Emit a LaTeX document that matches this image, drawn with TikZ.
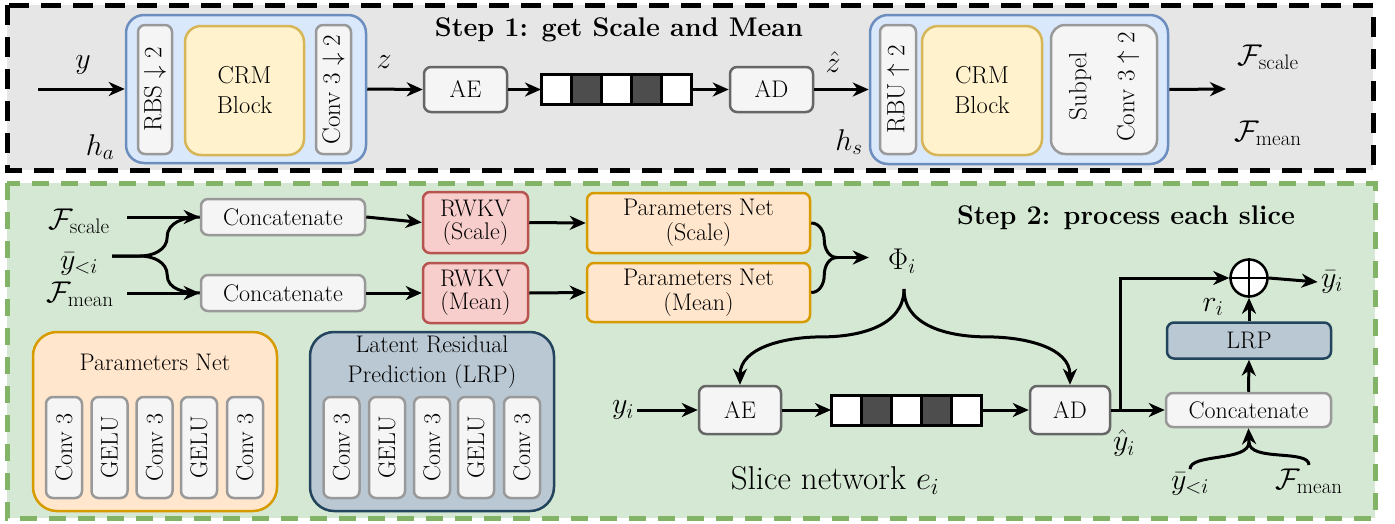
\RequirePackage{fix-cm}
\documentclass[tikz,border=0pt]{standalone}
\usetikzlibrary{arrows.meta,calc}
\definecolor{topbg}{HTML}{E6E6E6}
\definecolor{greenbg}{HTML}{D5E8D4}
\definecolor{greenln}{HTML}{82B366}
\definecolor{bluebg}{HTML}{DAE8FC}
\definecolor{blueln}{HTML}{6C8EBF}
\definecolor{yelbg}{HTML}{FFF2CC}
\definecolor{yelln}{HTML}{D6B656}
\definecolor{graybg}{HTML}{F5F5F5}
\definecolor{grayln}{HTML}{999999}
\definecolor{dgrayln}{HTML}{666666}
\definecolor{orbg}{HTML}{FFE6CC}
\definecolor{orln}{HTML}{D79B00}
\definecolor{redbg}{HTML}{F8CECC}
\definecolor{redln}{HTML}{B85450}
\definecolor{lrpbg}{HTML}{BAC8D3}
\definecolor{lrpln}{HTML}{23445D}
\definecolor{darkcell}{HTML}{4D4D4D}
\begin{document}
\begin{tikzpicture}[x=1pt,y=-1pt,
  font=\fontsize{24}{27}\selectfont,
  box/.style={draw, rounded corners=7pt, line width=2.5pt, align=center, inner sep=0pt},
  lgray/.style={box, fill=graybg, draw=grayln},
  dgray/.style={box, fill=graybg, draw=dgrayln},
  blueb/.style={box, fill=bluebg, draw=blueln, rounded corners=18pt},
  yelb/.style={box, fill=yelbg, draw=yelln, rounded corners=16pt, font=\fontsize{24.5}{30}\selectfont},
  redb/.style={box, fill=redbg, draw=redln, font=\fontsize{24}{23}\selectfont},
  orb/.style={box, fill=orbg, draw=orln, font=\fontsize{24}{25}\selectfont},
  lrpb/.style={box, fill=lrpbg, draw=lrpln},
  cell/.style={draw, line width=3pt, minimum width=30pt, minimum height=30pt, inner sep=0pt, outer sep=0pt},
  mlab/.style={font=\fontsize{30}{34}\selectfont},
  rlab/.style={font=\fontsize{25}{28}\selectfont},
  line/.style={line width=3pt},
  arr/.style={line width=3pt, -{Stealth[length=16pt,width=14pt,inset=5pt]}},
  title/.style={font=\fontsize{27}{32}\selectfont\bfseries}
]
\useasboundingbox (0,0) rectangle (1395,523);

% ---------- backgrounds ----------
\draw[fill=topbg, line width=5pt, dash pattern=on 20pt off 12pt] (7,5) rectangle (1373,170);
\draw[fill=greenbg, draw=greenln, line width=5pt, dash pattern=on 17pt off 12pt] (7,183) rectangle (1375,518);

% ---------- Step 1 ----------
\node[title] (s1) at (619,30) {Step 1: get Scale and Mean};

\node[blueb, minimum width=240pt, minimum height=148pt] (ha) at (246,89) {};
\node[lgray, rlab, rotate=90, minimum width=129pt, minimum height=34pt] (rbs) at (155,89.5) {$\mathrm{RBS}\downarrow 2$};
\node[yelb, minimum width=119pt, minimum height=129pt] (crm1) at (244.5,90.5) {CRM\\Block};
\node[lgray, rlab, rotate=90, minimum width=129pt, minimum height=35pt] (cv1) at (333.5,89.5) {$\mathrm{Conv}\ 3\downarrow 2$};

\coordinate (yin) at (38,89);
\node[mlab] (ylab) at (83,65) {$y$};
\node[mlab] (halab) at (100,147) {$h_a$};
\node[mlab] (zlab) at (384,62) {$z$};
\node[mlab] (zhlab) at (833,62) {$\hat z$};
\node[mlab] (hslab) at (849,142) {$h_s$};

\node[dgray, minimum width=83pt, minimum height=45pt] (ae1) at (465.5,89.5) {AE};
\foreach \i/\c in {1/white,2/darkcell,3/white,4/darkcell,5/white}{
  \node[cell, fill=\c] (ta\i) at (556+30*\i-30,89.5) {};
}
\node[dgray, minimum width=83pt, minimum height=45pt] (ad1) at (771.5,89.5) {AD};

\node[blueb, minimum width=298pt, minimum height=149pt] (hs) at (1019,89.5) {};
\node[lgray, rlab, rotate=90, minimum width=129pt, minimum height=36pt] (rbu) at (898,89.5) {$\mathrm{RBU}\uparrow 2$};
\node[yelb, minimum width=120pt, minimum height=129pt] (crm2) at (982,90.5) {CRM\\Block};
\node[lgray, minimum width=106pt, minimum height=129pt, rounded corners=14pt] (sub) at (1104,89.5) {};
\node[rlab, rotate=90] (subt1) at (1080,86) {$\mathrm{Subpel}$};
\node[rlab, rotate=90] (subt2) at (1128,87) {$\mathrm{Conv}\ 3\uparrow 2$};

\coordinate (hsout) at (1226,89);
\node[mlab] (fsc1) at (1268,57) {$\mathcal{F}_{\mathrm{scale}}$};
\node[mlab] (fme1) at (1268,133) {$\mathcal{F}_{\mathrm{mean}}$};

\draw[arr] (yin) -- (ha.west);
\draw[arr] (ha.east) -- (ae1.west);
\draw[arr] (ae1.east) -- (ta1.west);
\draw[arr] (ta5.east) -- (ad1.west);
\draw[arr] (ad1.east) -- (hs.west);
\draw[arr] (hs.east) -- (hsout);

% ---------- Step 2 ----------
\node[title] (s2) at (1126,218) {Step 2: process each slice};

\node[mlab, minimum width=96pt] (fs) at (79,221) {$\mathcal{F}_{\mathrm{scale}}$};
\node[mlab, minimum width=66pt] (yb) at (79,264) {$\bar y_{<i}$};
\node[mlab, minimum width=94pt] (fm) at (80,294) {$\mathcal{F}_{\mathrm{mean}}$};

\node[lgray, minimum width=164pt, minimum height=36pt] (cat1) at (283,217) {Concatenate};
\node[lgray, minimum width=164pt, minimum height=36pt] (cat2) at (283,293) {Concatenate};
\node[redb, minimum width=105pt, minimum height=61pt] (rw1) at (475.5,222.5) {RWKV\\(Scale)};
\node[redb, minimum width=105pt, minimum height=60pt] (rw2) at (475.5,293) {RWKV\\(Mean)};
\node[orb, minimum width=223pt, minimum height=60pt] (pn1) at (698.5,223) {Parameters Net\\(Scale)};
\node[orb, minimum width=223pt, minimum height=59pt] (pn2) at (698.5,292.5) {Parameters Net\\(Mean)};
\node[mlab, minimum width=66pt] (phi) at (902,261) {$\Phi_i$};

\draw[arr] ($(fs.east)+(0,-4)$) -- (cat1.west);
\draw[arr] ($(fm.east)+(0,-1)$) -- (cat2.west);
\draw[line] ($(yb.east)+(0,-8)$) -- ++(28,0) to[out=0,in=-90] ++(27,-19) to[out=90,in=180] (cat1.west);
\draw[line] ($(yb.east)+(0,-8)$) -- ++(28,0) to[out=0,in=90] ++(27,19) to[out=-90,in=180] (cat2.west);
\draw[arr] (cat1.east) -- (rw1.west);
\draw[arr] (cat2.east) -- (rw2.west);
\draw[arr] (rw1.east) -- (pn1.west);
\draw[arr] (rw2.east) -- (pn2.west);
\draw[line] (pn1.east) to[out=0,in=90] ++(13,17) to[out=-90,in=180] ++(13,17.5) coordinate (pj);
\draw[line] (pn2.east) to[out=0,in=-90] ++(13,-17.5) to[out=90,in=180] ++(13,-17.5);
\draw[arr] (pj) -- (pj -| phi.west);

% slice network
\node[mlab] (yi) at (623,410) {$y_i$};
\node[dgray, minimum width=82pt, minimum height=48pt] (ae2) at (740,410) {AE};
\foreach \i/\c in {1/white,2/darkcell,3/white,4/darkcell,5/white}{
  \node[cell, fill=\c] (tb\i) at (846+30*\i-30,410) {};
}
\node[dgray, minimum width=80pt, minimum height=48pt] (ad2) at (1070,410) {AD};
\node[lgray, minimum width=165pt, minimum height=34pt] (cat3) at (1248.5,410) {Concatenate};
\node[lrpb, minimum width=164pt, minimum height=36pt] (lrp) at (1249,340.5) {LRP};
\node[circle, draw, fill=white, line width=2.5pt, minimum size=37pt, inner sep=0pt] (op) at (1249,278) {};
\draw[line width=2.5pt] (op.north) -- (op.south) (op.west) -- (op.east);
\node[mlab] (ybi) at (1332,282) {$\bar y_i$};
\node[mlab] (ri) at (1213,307) {$r_i$};
\node[mlab] (yh) at (1124,443) {$\hat y_i$};
\node[mlab] (yb2) at (1190,484) {$\bar y_{<i}$};
\node[mlab] (fm2) at (1309,481) {$\mathcal{F}_{\mathrm{mean}}$};
\node (sn) at (835,480) {\fontsize{33}{36}\selectfont Slice network $e_i$};

\coordinate (sp) at (904,289);
\coordinate (bj) at (1249,442);

\draw[arr] (sp) to[out=-90,in=0] ($(sp)!0.5!(ae2.north)$) to[out=180,in=90] (ae2.north);
\draw[arr] (sp) to[out=-90,in=180] ($(sp)!0.5!(ad2.north)$) to[out=0,in=90] (ad2.north);
\draw[arr] (yi) -- (ae2.west);
\draw[arr] (ae2.east) -- (tb1.west);
\draw[arr] (tb5.east) -- (ad2.west);
\draw[arr] (ad2.east) -- (cat3.west);
\draw[arr] ($(ad2.east)+(9,0)$) |- (op.west);
\draw[arr] (cat3.north) -- (lrp.south);
\draw[arr] (lrp.north) -- (op.south);
\draw[arr] (op.east) -- (ybi.west);
\draw[line] (yb2.north) .. controls +(0,-16) and +(0,20) .. (bj);
\draw[line] (fm2.north) .. controls +(0,-16) and +(0,20) .. (bj);
\draw[arr] (bj) -- (cat3.south);

% legends
\node[orb, rounded corners=24pt, minimum width=244pt, minimum height=179pt] (pnl) at (155,421.5) {};
\node (pnlt) at (155,362) {Parameters Net};
\foreach \i/\x/\t in {1/64/Conv 3,2/109.5/GELU,3/154.5/Conv 3,4/199/GELU,5/245/Conv 3}{
  \node[lgray, rotate=90, minimum width=101pt, minimum height=36pt] (pa\i) at (\x,447.5) {\t};
}
\node[lrpb, rounded corners=24pt, minimum width=244pt, minimum height=179pt] (lrpl) at (432,421.5) {};
\node[align=center, font=\fontsize{24}{30}\selectfont] (lrplt) at (432,362) {Latent Residual\\Prediction (LRP)};
\foreach \i/\x/\t in {1/341.5/Conv 3,2/387/GELU,3/432/Conv 3,4/476/GELU,5/522/Conv 3}{
  \node[lgray, rotate=90, minimum width=101pt, minimum height=36pt] (pb\i) at (\x,447.5) {\t};
}
\end{tikzpicture}
\end{document}
